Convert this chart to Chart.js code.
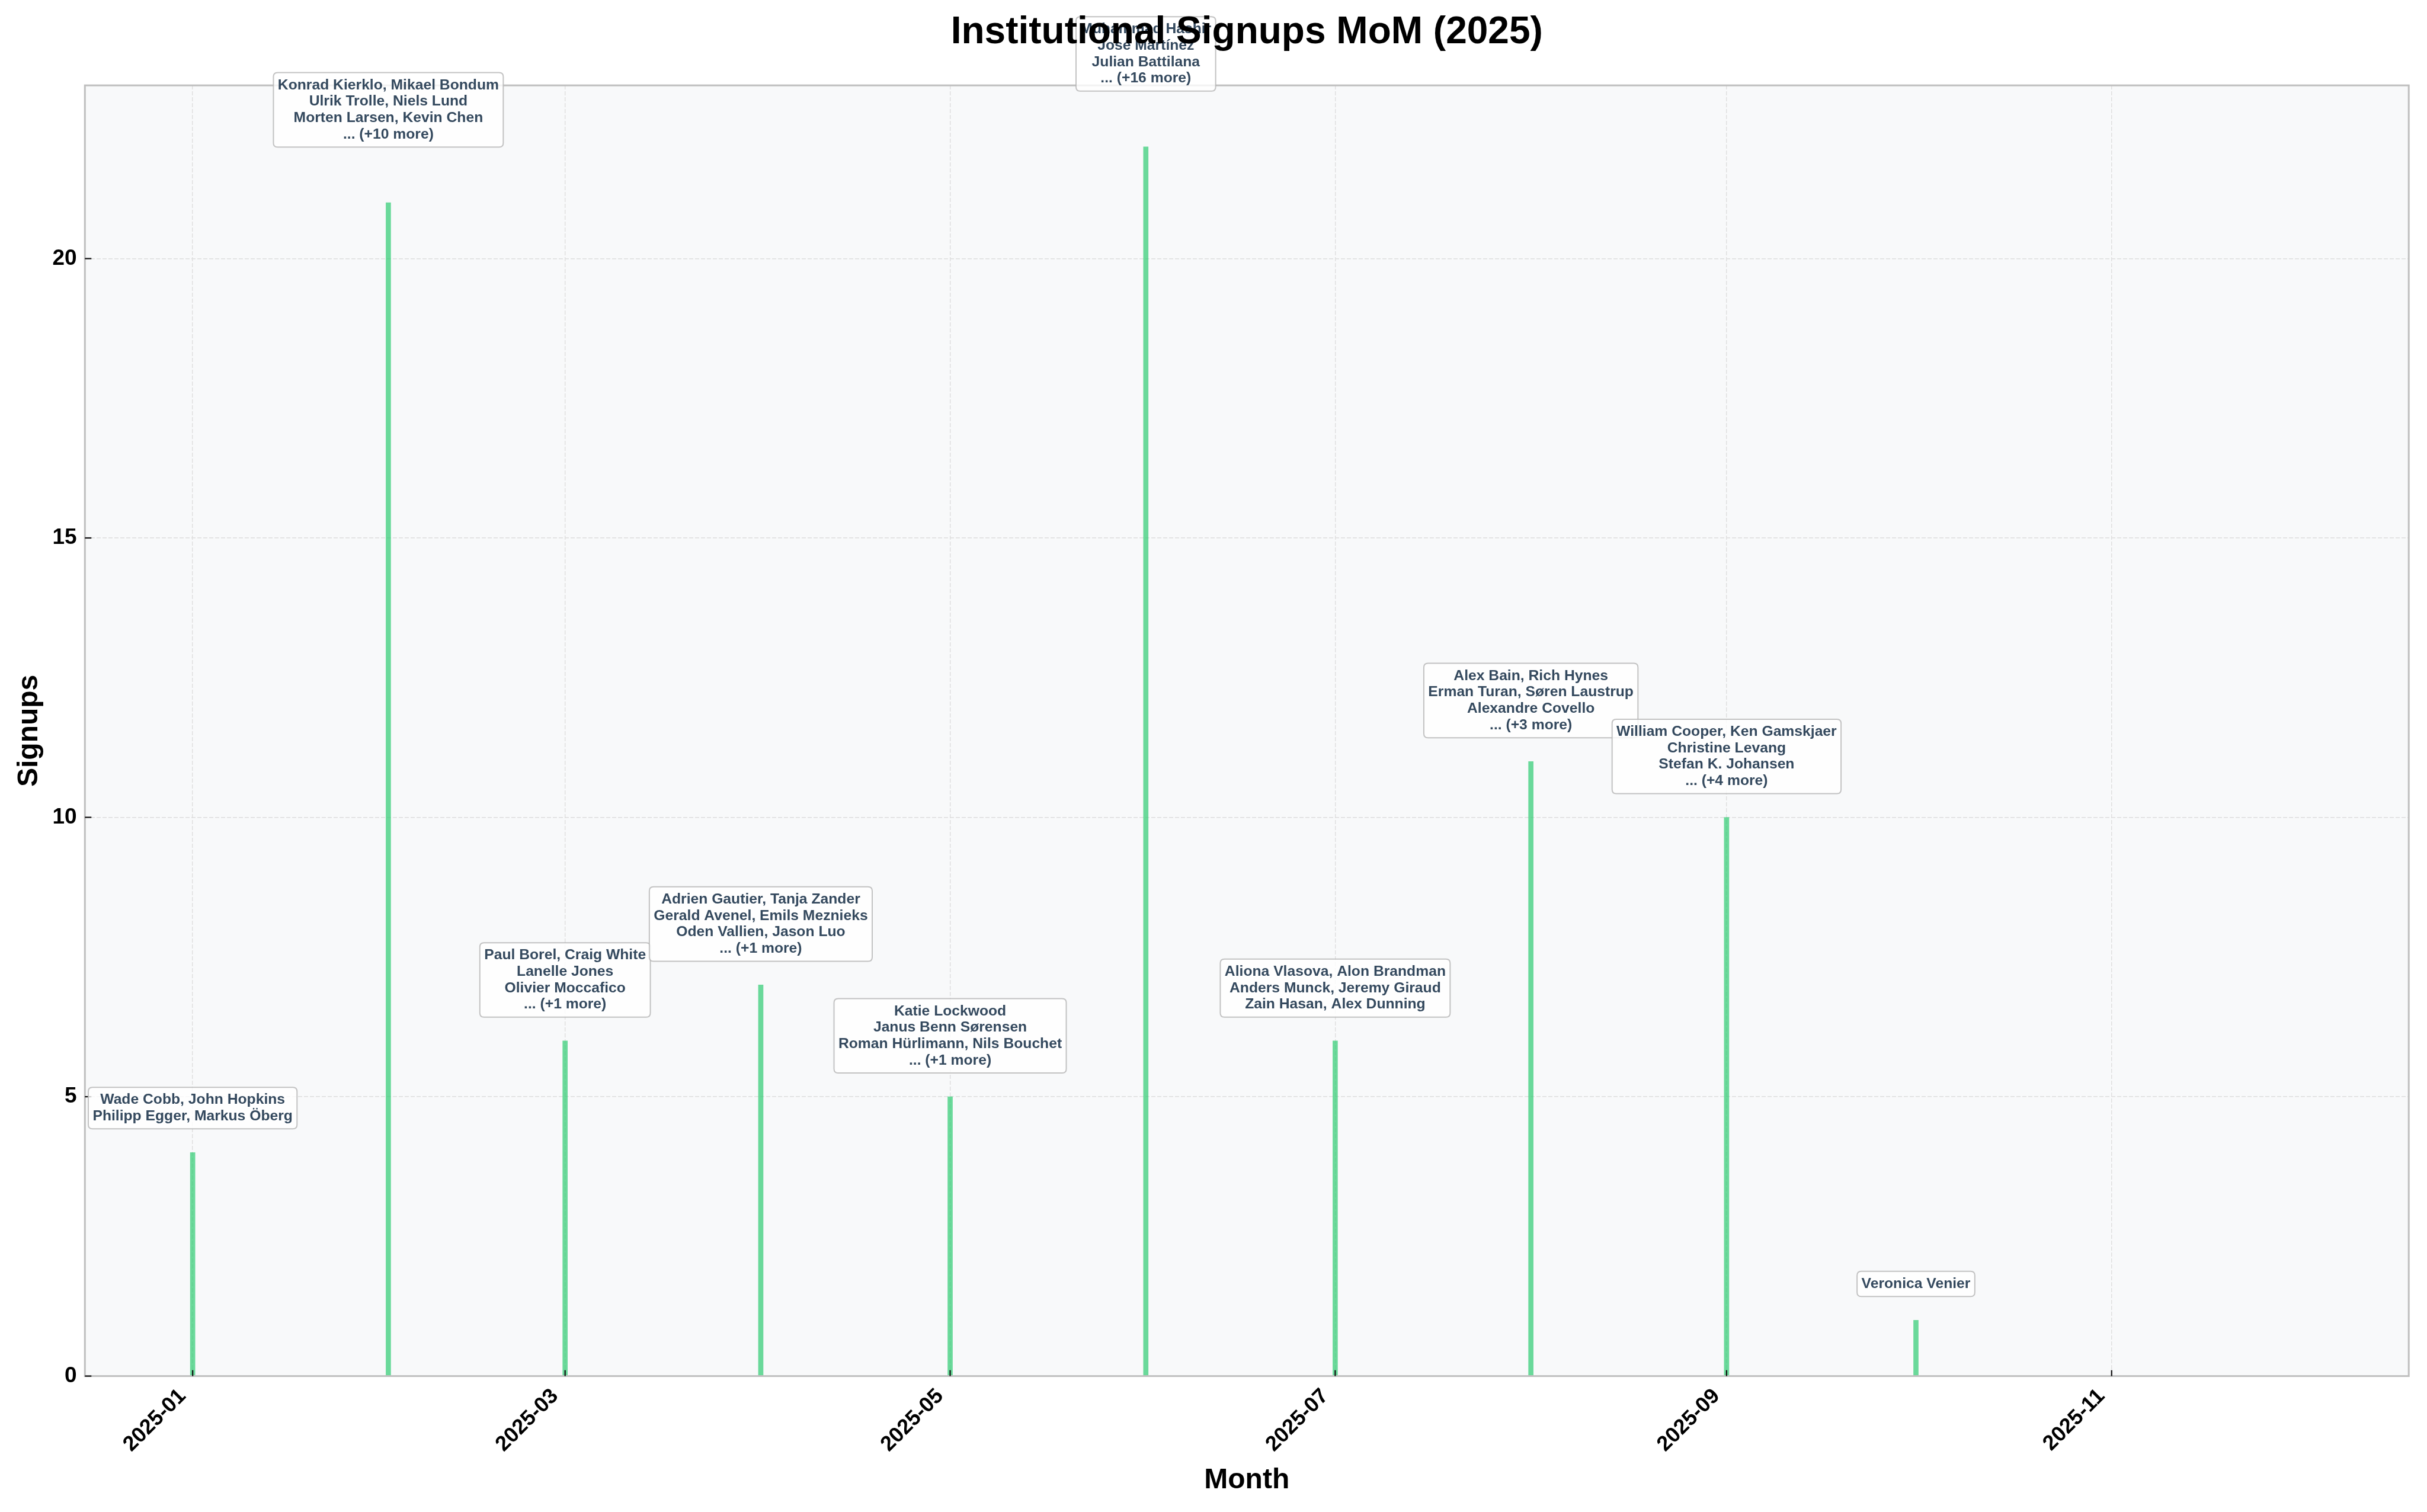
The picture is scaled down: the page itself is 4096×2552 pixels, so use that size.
<!DOCTYPE html>
<html>
<head>
<meta charset="utf-8">
<script src="https://cdn.jsdelivr.net/npm/chart.js@4.4.1/dist/chart.umd.min.js"></script>
<style>
html,body{margin:0;padding:0;background:#ffffff;}
canvas{display:block;}
</style>
</head>
<body>
<canvas id="c" width="4096" height="2552" style="width:4096px;height:2552px"></canvas>
<script>
// ---------------- data ----------------
const months = ['2025-01-01','2025-02-01','2025-03-01','2025-04-01','2025-05-01','2025-06-01',
                '2025-07-01','2025-08-01','2025-09-01','2025-10-01','2025-11-01','2025-12-01'];
const signups = [4, 21, 6, 7, 5, 22, 6, 11, 10, 1, 0, 0];
const tickDates = ['2025-01-01','2025-03-01','2025-05-01','2025-07-01','2025-09-01','2025-11-01'];
const tickLabels = ['2025-01','2025-03','2025-05','2025-07','2025-09','2025-11'];
const yTicks = [0, 5, 10, 15, 20];
const names = [
  ['Wade Cobb, John Hopkins', 'Philipp Egger, Markus Öberg'],
  ['Konrad Kierklo, Mikael Bondum', 'Ulrik Trolle, Niels Lund', 'Morten Larsen, Kevin Chen', '... (+10 more)'],
  ['Paul Borel, Craig White', 'Lanelle Jones', 'Olivier Moccafico', '... (+1 more)'],
  ['Adrien Gautier, Tanja Zander', 'Gerald Avenel, Emils Meznieks', 'Oden Vallien, Jason Luo', '... (+1 more)'],
  ['Katie Lockwood', 'Janus Benn Sørensen', 'Roman Hürlimann, Nils Bouchet', '... (+1 more)'],
  ['Muhammad Hashir', 'José Martínez', 'Julian Battilana', '... (+16 more)'],
  ['Aliona Vlasova, Alon Brandman', 'Anders Munck, Jeremy Giraud', 'Zain Hasan, Alex Dunning'],
  ['Alex Bain, Rich Hynes', 'Erman Turan, Søren Laustrup', 'Alexandre Covello', '... (+3 more)'],
  ['William Cooper, Ken Gamskjaer', 'Christine Levang', 'Stefan K. Johansen', '... (+4 more)'],
  ['Veronica Venier'],
  [],
  []
];
const titleText = 'Institutional Signups MoM (2025)';
const xTitle = 'Month';
const yTitle = 'Signups';

// ---------------- helpers ----------------
const DAY = 86400000;
const ORIGIN = Date.UTC(2025, 0, 1);
function dayOf(s) { const p = s.split('-').map(Number); return (Date.UTC(p[0], p[1] - 1, p[2]) - ORIGIN) / DAY; }
const xDays = months.map(dayOf);
const tickDays = tickDates.map(dayOf);
const span = xDays[xDays.length - 1] - xDays[0];
const xMin = xDays[0] - span * 0.05 - 0.37;
const xMax = xDays[xDays.length - 1] + span * 0.05 + 0.37;
const yMax = Math.max(...signups) * 1.05;

const FONT = "'Liberation Sans', Arial, Helvetica, sans-serif";

function roundRect(ctx, x, y, w, h, r) {
  ctx.beginPath();
  ctx.moveTo(x + r, y);
  ctx.lineTo(x + w - r, y);
  ctx.quadraticCurveTo(x + w, y, x + w, y + r);
  ctx.lineTo(x + w, y + h - r);
  ctx.quadraticCurveTo(x + w, y + h, x + w - r, y + h);
  ctx.lineTo(x + r, y + h);
  ctx.quadraticCurveTo(x, y + h, x, y + h - r);
  ctx.lineTo(x, y + r);
  ctx.quadraticCurveTo(x, y, x + r, y);
  ctx.closePath();
}

const overlay = {
  id: 'overlay',
  beforeDraw(c) {
    const { ctx, chartArea: a } = c;
    ctx.save();
    ctx.fillStyle = '#f8f9fa';
    ctx.fillRect(a.left, a.top, a.right - a.left, a.bottom - a.top);
    ctx.restore();
  },
  afterDraw(c) {
    const { ctx, chartArea: a } = c;
    const xs = c.scales.x, ys = c.scales.y;
    ctx.save();
    // spines
    ctx.strokeStyle = '#bfbfbf';
    ctx.lineWidth = 3;
    ctx.strokeRect(a.left, a.top, a.right - a.left, a.bottom - a.top);
    // inward tick marks
    ctx.strokeStyle = '#111111';
    ctx.lineWidth = 2.2;
    xs.ticks.forEach(t => {
      const px = xs.getPixelForValue(t.value);
      ctx.beginPath(); ctx.moveTo(px, a.bottom); ctx.lineTo(px, a.bottom - 10); ctx.stroke();
    });
    ys.ticks.forEach(t => {
      const py = ys.getPixelForValue(t.value);
      ctx.beginPath(); ctx.moveTo(a.left, py); ctx.lineTo(a.left + 11, py); ctx.stroke();
    });
    // annotations
    const fs = 24.7, lh = 27.7, pad = 7.4;
    ctx.font = 'bold ' + fs + 'px ' + FONT;
    names.forEach((lines, i) => {
      if (!lines.length) return;
      const px = xs.getPixelForValue(xDays[i]);
      const topPx = ys.getPixelForValue(signups[i]);
      const gap = signups[i] >= 20 ? 94 : 40;
      const tw = Math.max(...lines.map(l => ctx.measureText(l).width));
      const w = tw + 2 * pad;
      const h = lines.length * lh + 2 * pad;
      const bx = px - w / 2;
      const by = topPx - gap - h;
      roundRect(ctx, bx, by, w, h, 7);
      ctx.fillStyle = 'rgba(255,255,255,0.8)';
      ctx.fill();
      ctx.strokeStyle = 'rgba(180,180,180,0.8)';
      ctx.lineWidth = 2;
      ctx.stroke();
      ctx.fillStyle = '#34495e';
      ctx.textAlign = 'center';
      ctx.textBaseline = 'middle';
      lines.forEach((l, k) => {
        ctx.fillText(l, px, by + pad + lh * (k + 0.5));
      });
    });
    // title (drawn last, over everything)
    ctx.fillStyle = '#000000';
    ctx.font = 'bold 64px ' + FONT;
    ctx.textAlign = 'center';
    ctx.textBaseline = 'alphabetic';
    ctx.fillText(titleText, (a.left + a.right) / 2, 73);
    ctx.restore();
  }
};

new Chart(document.getElementById('c'), {
  type: 'bar',
  data: {
    datasets: [{
      label: 'Signups',
      data: xDays.map((d, i) => ({ x: d, y: signups[i] })),
      backgroundColor: 'rgba(46,204,113,0.7)',
      borderWidth: 0,
      barThickness: 8
    }]
  },
  options: {
    responsive: false,
    animation: false,
    devicePixelRatio: 1,
    layout: { padding: { left: 0, top: 144.1, right: 30.8, bottom: 0 } },
    plugins: {
      legend: { display: false },
      title: { display: false },
      tooltip: { enabled: false }
    },
    scales: {
      x: {
        type: 'linear',
        min: xMin,
        max: xMax,
        offset: false,
        afterBuildTicks: s => { s.ticks = tickDays.map(v => ({ value: v })); },
        afterFit: s => { s.height = 229.4; },
        ticks: {
          autoSkip: false,
          minRotation: 45,
          maxRotation: 45,
          padding: 13,
          labelOffset: -17,
          color: '#000000',
          font: { family: FONT, size: 36, weight: 'bold' },
          callback: (v, i) => tickLabels[i]
        },
        grid: { color: '#dedede', lineWidth: 1.4, drawTicks: false, offset: false },
        border: { display: false, dash: [7, 3] },
        title: {
          display: true, text: xTitle, color: '#000000',
          font: { family: FONT, size: 48, weight: 'bold' },
          padding: { top: 0, bottom: 24.7 }
        }
      },
      y: {
        type: 'linear',
        min: 0,
        max: yMax,
        afterBuildTicks: s => { s.ticks = yTicks.map(v => ({ value: v })); },
        afterFit: s => { s.width = 143.3; },
        ticks: {
          padding: 13.7,
          color: '#000000',
          font: { family: FONT, size: 37, weight: 'bold' },
          callback: v => String(v)
        },
        grid: { color: '#dedede', lineWidth: 1.4, drawTicks: false },
        border: { display: false, dash: [7, 3] },
        title: {
          display: true, text: yTitle, color: '#000000',
          font: { family: FONT, size: 48, weight: 'bold' },
          padding: { top: 21, bottom: 0 }
        }
      }
    }
  },
  plugins: [overlay]
});
</script>
</body>
</html>
